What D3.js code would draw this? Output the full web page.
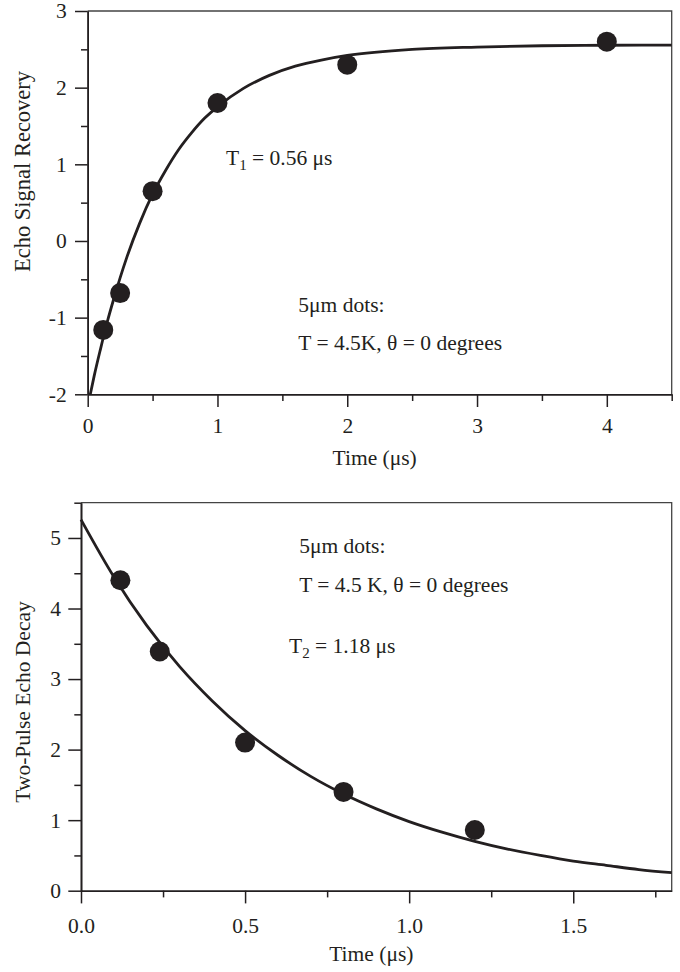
<!DOCTYPE html>
<html>
<head>
<meta charset="utf-8">
<script src="https://cdn.jsdelivr.net/npm/d3@7"></script>
<style>
  body { margin: 0; background: #fff; }
  text { font-family: "Liberation Serif", "DejaVu Serif", serif; fill: #231f20; }
</style>
</head>
<body>
<div id="chart"></div>
<script>
// Top panel: echo signal recovery (T1)
const t1Times = [0.12, 0.25, 0.5, 1, 2, 4]
const t1Values = [-1.16, -0.68, 0.65, 1.8, 2.3, 2.6]
const t1FitTimes = [0.02, 0.05, 0.1, 0.15, 0.2, 0.3, 0.4, 0.5, 0.6, 0.7, 0.8, 0.9, 1.0, 1.2, 1.4, 1.6, 1.8, 2.0, 2.5, 3.0, 3.5, 4.0, 4.5]
const t1FitValues = [-2.0, -1.76, -1.40, -1.06, -0.76, -0.22, 0.23, 0.61, 0.92, 1.19, 1.41, 1.60, 1.75, 1.99, 2.16, 2.28, 2.36, 2.42, 2.50, 2.53, 2.547, 2.553, 2.555]
const t1XTicks = [0, 1, 2, 3, 4]
const t1YTicks = [-2, -1, 0, 1, 2, 3]

// Bottom panel: two-pulse echo decay (T2)
const t2Times = [0.12, 0.24, 0.5, 0.8, 1.2]
const t2Values = [4.4, 3.39, 2.1, 1.4, 0.86]
const t2FitTimes = [0, 0.1, 0.2, 0.3, 0.4, 0.5, 0.6, 0.7, 0.8, 0.9, 1.0, 1.1, 1.2, 1.3, 1.4, 1.5, 1.6, 1.7, 1.8]
const t2FitValues = [5.26, 4.45, 3.76, 3.18, 2.69, 2.27, 1.92, 1.62, 1.37, 1.16, 0.98, 0.83, 0.70, 0.59, 0.50, 0.42, 0.36, 0.30, 0.255]
const t2XTicks = [0, 0.5, 1.0, 1.5]
const t2YTicks = [0, 1, 2, 3, 4, 5]

const ink = "#231f20"
const fontSize = 21.5

let svg = d3.select("#chart")
            .append("svg")
            .attr("width", 680)
            .attr("height", 972)

// plain hyphen for negatives, like the original figure
function intFormat(d) { return String(d) }

function drawPanel(opt) {
    let x = d3.scaleLinear().domain(opt.xDomain).range([opt.left, opt.right])
    let y = d3.scaleLinear().domain(opt.yDomain).range([opt.bottom, opt.top])
    let g = svg.append("g")

    // frame (top and right)
    g.append("path")
     .attr("d", "M" + opt.left + "," + opt.top + "H" + opt.right + "V" + opt.bottom)
     .attr("fill", "none")
     .attr("stroke", "#444")
     .attr("stroke-width", 1.3)

    // minor ticks
    g.append("g")
     .attr("transform", "translate(0," + opt.bottom + ")")
     .call(d3.axisBottom(x).tickValues(opt.xMinor).tickSize(6.7).tickSizeOuter(0).tickFormat(""))
    g.append("g")
     .attr("transform", "translate(" + opt.left + ",0)")
     .call(d3.axisLeft(y).tickValues(opt.yMinor).tickSize(6.7).tickSizeOuter(0).tickFormat(""))

    // major ticks + labels
    g.append("g")
     .attr("transform", "translate(0," + opt.bottom + ")")
     .call(d3.axisBottom(x).tickValues(opt.xTicks).tickSize(12.7).tickSizeOuter(0)
             .tickPadding(opt.xPad).tickFormat(opt.xFormat))
    g.append("g")
     .attr("transform", "translate(" + opt.left + ",0)")
     .call(d3.axisLeft(y).tickValues(opt.yTicks).tickSize(12.7).tickSizeOuter(0)
             .tickPadding(opt.yPad).tickFormat(intFormat))

    g.selectAll(".domain").attr("stroke", ink).attr("stroke-width", 1.6)
    g.selectAll(".tick line").attr("stroke", ink).attr("stroke-width", 1.5)
    g.selectAll(".tick text")
     .attr("fill", ink)
     .style("font-family", "'Liberation Serif', serif")
     .style("font-size", fontSize + "px")

    // fit curve
    let fit = opt.fitTimes.map(function(t, i) { return [t, opt.fitValues[i]] })
    g.append("path")
     .datum(fit)
     .attr("fill", "none")
     .attr("stroke", ink)
     .attr("stroke-width", 2.8)
     .attr("d", d3.line()
                  .x(function(d) { return x(d[0]) })
                  .y(function(d) { return y(d[1]) })
                  .curve(d3.curveMonotoneX))

    // data points
    let pts = opt.times.map(function(t, i) { return [t, opt.values[i]] })
    g.selectAll("circle.pt")
     .data(pts)
     .enter()
     .append("circle")
     .attr("class", "pt")
     .attr("cx", function(d) { return x(d[0]) })
     .attr("cy", function(d) { return y(d[1]) })
     .attr("r", 10)
     .attr("fill", ink)

    // axis titles
    g.append("text")
     .attr("x", (opt.left + opt.right) / 2 - 5)
     .attr("y", opt.xTitleY)
     .attr("text-anchor", "middle")
     .style("font-size", fontSize + "px")
     .text("Time (μs)")
    g.append("text")
     .attr("transform", "translate(30," + opt.yTitleY + ") rotate(-90)")
     .attr("text-anchor", "middle")
     .style("font-size", opt.yTitleSize + "px")
     .text(opt.yTitle)

    // annotations
    opt.notes.forEach(function(n) {
        g.append("text")
         .attr("x", x(n.t))
         .attr("y", y(n.v))
         .style("font-size", fontSize + "px")
         .text(n.text)
    })
    let tl = g.append("text")
              .attr("x", x(opt.tau.t))
              .attr("y", y(opt.tau.v))
              .style("font-size", fontSize + "px")
    tl.append("tspan").text("T")
    tl.append("tspan").attr("dy", 5).style("font-size", "15px").text(opt.tau.sub)
    tl.append("tspan").attr("dy", -5).text(" = " + opt.tau.value)

    return {x: x, y: y}
}

drawPanel({
    left: 87.7, right: 671.7, top: 11, bottom: 394.3,
    xDomain: [0, 4.5], yDomain: [-2, 3],
    xTicks: t1XTicks, yTicks: t1YTicks,
    xMinor: [0.5, 1.5, 2.5, 3.5, 4.5], yMinor: [-1.5, -0.5, 0.5, 1.5, 2.5],
    xFormat: intFormat, xPad: 11, yPad: 8.3,
    times: t1Times, values: t1Values,
    fitTimes: t1FitTimes, fitValues: t1FitValues,
    xTitleY: 465, yTitleY: 171.5, yTitle: "Echo Signal Recovery", yTitleSize: 22.5,
    notes: [
        {t: 1.623, v: -0.92, text: "5μm dots:"},
        {t: 1.623, v: -1.42, text: "T = 4.5K, θ = 0 degrees"}
    ],
    tau: {t: 1.066, v: 0.99, sub: "1", value: "0.56 μs"}
})

drawPanel({
    left: 81, right: 671.7, top: 502.7, bottom: 890.7,
    xDomain: [0, 1.8], yDomain: [0, 5.5],
    xTicks: t2XTicks, yTicks: t2YTicks,
    xMinor: [0.25, 0.75, 1.25, 1.75], yMinor: [0.5, 1.5, 2.5, 3.5, 4.5, 5.5],
    xFormat: d3.format(".1f"), xPad: 14.5, yPad: 7.3,
    times: t2Times, values: t2Values,
    fitTimes: t2FitTimes, fitValues: t2FitValues,
    xTitleY: 961, yTitleY: 702, yTitle: "Two-Pulse Echo Decay", yTitleSize: 21.5,
    notes: [
        {t: 0.665, v: 4.79, text: "5μm dots:"},
        {t: 0.665, v: 4.24, text: "T = 4.5 K, θ = 0 degrees"}
    ],
    tau: {t: 0.634, v: 3.37, sub: "2", value: "1.18 μs"}
})
</script>
</body>
</html>
